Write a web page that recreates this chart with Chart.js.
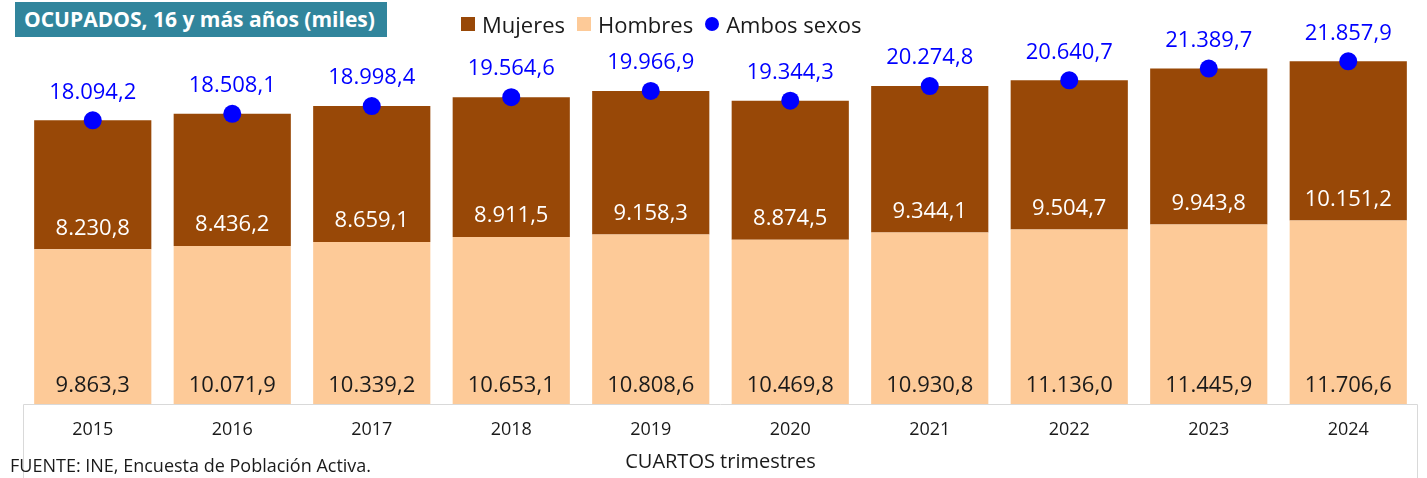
<!DOCTYPE html>
<html>
<head>
<meta charset="utf-8">
<script src="https://cdn.jsdelivr.net/npm/chart.js@4.4.1/dist/chart.umd.min.js"></script>
<style>
    body { margin: 0; background: #fff; }
    #wrap { position: relative; width: 1427px; height: 478px; font-family: "Open Sans", sans-serif; }
    #titulo { position: absolute; left: 15px; top: 2px; width: 372px; height: 35px; background: #31859C;
        color: #fff; font-weight: bold; font-size: 21px; line-height: 35px; padding-left: 9px; box-sizing: border-box; white-space: nowrap; }
    #leyenda { position: absolute; left: 461px; top: 9px; font-size: 22px; color: #1a1a1a; display: flex; align-items: center; }
    #leyenda span.m { display: inline-block; width: 14px; height: 14px; margin-right: 7px; }
    #leyenda span.t { margin-right: 12px; }
    #fuente { position: absolute; left: 10px; top: 453px; font-size: 18px; color: #1a1a1a; }
</style>
</head>
<body>
<div id="wrap">
    <canvas id="ocupados" width="1427" height="478"></canvas>
    <div id="titulo">OCUPADOS, 16 y más años (miles)</div>
    <div id="leyenda">
        <span class="m" style="background:#984807"></span><span class="t">Mujeres</span>
        <span class="m" style="background:#FDCA98"></span><span class="t">Hombres</span>
        <span class="m" style="background:#0000FF;border-radius:50%"></span><span class="t">Ambos sexos</span>
    </div>
    <div id="fuente">FUENTE: INE, Encuesta de Población Activa.</div>
</div>
<script>
    var years = ["2015", "2016", "2017", "2018", "2019", "2020", "2021", "2022", "2023", "2024"];
    var hombres = [9863.3, 10071.9, 10339.2, 10653.1, 10808.6, 10469.8, 10930.8, 11136.0, 11445.9, 11706.6];
    var mujeres = [8230.8, 8436.2, 8659.1, 8911.5, 9158.3, 8874.5, 9344.1, 9504.7, 9943.8, 10151.2];
    var ambos = [18094.2, 18508.1, 18998.4, 19564.6, 19966.9, 19344.3, 20274.8, 20640.7, 21389.7, 21857.9];

    // formato español: 18.094,2
    function fmt(v) {
        var s = v.toFixed(1).split(".");
        var ent = s[0].replace(/\B(?=(\d{3})+(?!\d))/g, ".");
        return ent + "," + s[1];
    }

    var FONT = "'Open Sans', sans-serif";

    // caja del eje x
    var ejeBox = {
        id: "ejeBox",
        beforeDatasetsDraw: function (chart) {
            var c = chart.ctx, a = chart.chartArea;
            c.save();
            c.strokeStyle = "#D9D9D9";
            c.lineWidth = 1;
            c.beginPath();
            c.moveTo(a.left + 0.5, chart.height);
            c.lineTo(a.left + 0.5, a.bottom + 0.5);
            c.lineTo(a.right - 0.5, a.bottom + 0.5);
            c.lineTo(a.right - 0.5, chart.height);
            c.stroke();
            c.restore();
        }
    };

    // etiquetas de valores
    var etiquetas = {
        id: "etiquetas",
        afterDatasetsDraw: function (chart) {
            var c = chart.ctx;
            c.save();
            c.textAlign = "center";
            c.textBaseline = "middle";
            c.font = "22px " + FONT;
            var bottom = chart.chartArea.bottom;
            chart.getDatasetMeta(0).data.forEach(function (el, i) {
                c.fillStyle = "#1a1a1a";
                c.fillText(fmt(hombres[i]), el.x, bottom - 18);
            });
            chart.getDatasetMeta(1).data.forEach(function (el, i) {
                c.fillStyle = "#ffffff";
                c.fillText(fmt(mujeres[i]), el.x, el.base - 21);
            });
            chart.getDatasetMeta(2).data.forEach(function (el, i) {
                c.fillStyle = "#0000FF";
                c.fillText(fmt(ambos[i]), el.x, el.y - 28);
            });
            c.restore();
        }
    };

    new Chart(document.getElementById("ocupados"), {
        type: "bar",
        data: {
            labels: years,
            datasets: [{
                label: "Hombres",
                data: hombres,
                backgroundColor: "#FDCA98",
                stack: "s",
                barPercentage: 0.84,
                categoryPercentage: 1,
                order: 1
            }, {
                label: "Mujeres",
                data: mujeres,
                backgroundColor: "#984807",
                stack: "s",
                barPercentage: 0.84,
                categoryPercentage: 1,
                order: 1
            }, {
                type: "line",
                label: "Ambos sexos",
                data: ambos,
                stack: "total",
                showLine: false,
                pointRadius: 9,
                pointBackgroundColor: "#0000FF",
                pointBorderWidth: 0,
                order: 0
            }]
        },
        options: {
            responsive: false,
            animation: false,
            layout: { padding: { left: 23, right: 9, top: 12, bottom: 4 } },
            plugins: {
                legend: { display: false },
                tooltip: { enabled: false }
            },
            scales: {
                x: {
                    stacked: true,
                    grid: { display: false, drawTicks: false },
                    border: { display: false },
                    ticks: { color: "#1a1a1a", font: { family: FONT, size: 18 }, padding: 15 },
                    title: {
                        display: true,
                        text: "CUARTOS trimestres",
                        color: "#1a1a1a",
                        font: { family: FONT, size: 20 },
                        padding: { top: 0, bottom: 0 }
                    },
                    afterFit: function (scale) { scale.height = 70; }
                },
                y: {
                    stacked: true,
                    display: false,
                    min: 0,
                    max: 25000
                }
            }
        },
        plugins: [ejeBox, etiquetas]
    });
</script>
</body>
</html>
